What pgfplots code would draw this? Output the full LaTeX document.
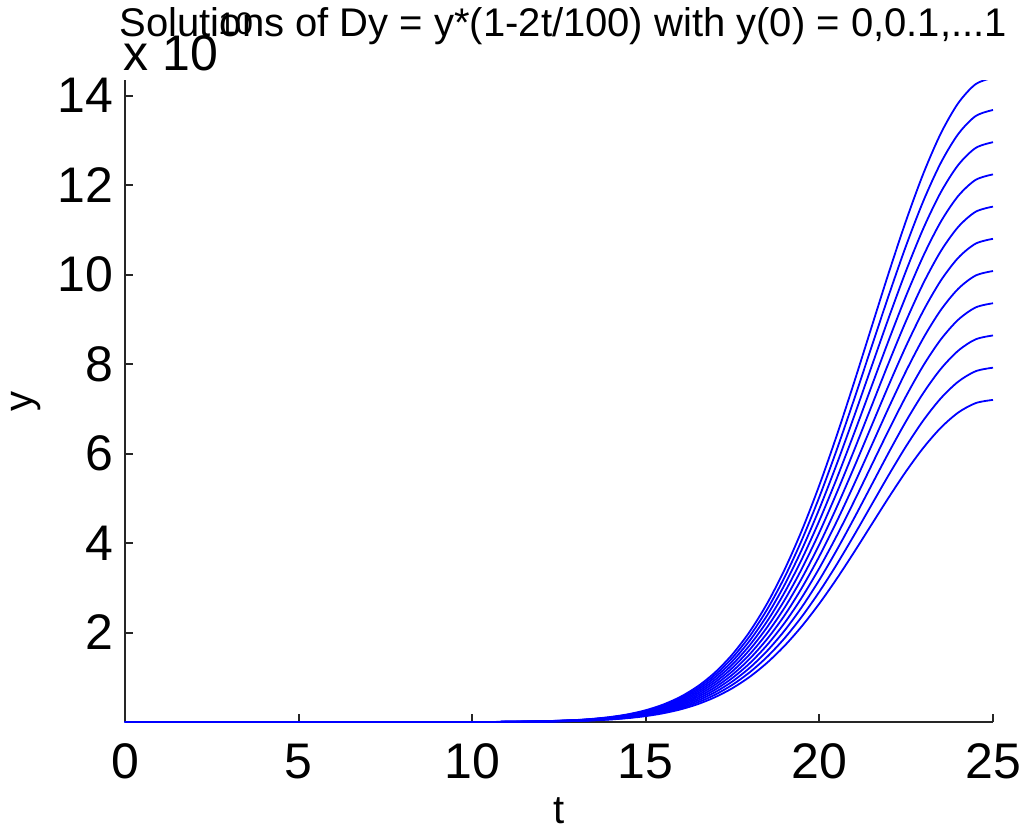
\documentclass[border=0pt]{standalone}
\usepackage{fontspec}
\setmainfont{Liberation Sans}
\usepackage{pgfplots}
\usepackage{pgfplotstable}
\pgfplotsset{compat=1.18}

% solution curves, values in units of 10^10
\pgfplotstableread{
t    c10   c11   c12   c13   c14   c15    c16    c17    c18    c19    c20
0    0     0     0     0     0     0      0      0      0      0      0
10   0.001 0.001 0.001 0.001 0.001 0.002  0.002  0.002  0.002  0.002  0.002
11   0.003 0.003 0.003 0.004 0.004 0.004  0.004  0.005  0.005  0.005  0.006
12   0.008 0.009 0.010 0.011 0.012 0.013  0.013  0.014  0.015  0.016  0.017
13   0.023 0.025 0.027 0.030 0.032 0.034  0.036  0.039  0.041  0.043  0.045
13.5 0.036 0.040 0.044 0.047 0.051 0.054  0.058  0.062  0.065  0.069  0.073
14   0.057 0.063 0.068 0.074 0.080 0.085  0.091  0.097  0.103  0.108  0.114
14.5 0.088 0.096 0.105 0.114 0.123 0.131  0.140  0.149  0.158  0.166  0.175
15   0.132 0.145 0.158 0.171 0.185 0.198  0.211  0.224  0.237  0.251  0.264
15.5 0.195 0.214 0.234 0.253 0.273 0.292  0.312  0.331  0.351  0.370  0.390
16   0.282 0.310 0.338 0.367 0.395 0.423  0.451  0.479  0.508  0.536  0.564
16.5 0.400 0.440 0.480 0.520 0.560 0.600  0.640  0.680  0.720  0.760  0.800
17   0.557 0.612 0.668 0.724 0.779 0.835  0.891  0.946  1.002  1.058  1.113
17.5 0.759 0.835 0.911 0.987 1.062 1.138  1.214  1.290  1.366  1.442  1.518
18   1.014 1.116 1.217 1.318 1.420 1.521  1.623  1.724  1.826  1.927  2.028
18.5 1.329 1.461 1.594 1.727 1.860 1.993  2.126  2.258  2.391  2.524  2.657
19   1.706 1.876 2.047 2.218 2.388 2.559  2.729  2.900  3.071  3.241  3.412
19.5 2.147 2.362 2.576 2.791 3.006 3.221  3.435  3.650  3.865  4.079  4.294
20   2.649 2.914 3.178 3.443 3.708 3.973  4.238  4.503  4.768  5.033  5.297
20.5 3.203 3.523 3.844 4.164 4.484 4.805  5.125  5.445  5.765  6.086  6.406
21   3.797 4.176 4.556 4.935 5.315 5.695  6.074  6.454  6.834  7.213  7.593
21.5 4.411 4.852 5.293 5.734 6.175 6.616  7.057  7.499  7.940  8.381  8.822
22   5.023 5.526 6.028 6.530 7.033 7.535  8.037  8.540  9.042  9.544  10.047
22.5 5.607 6.168 6.729 7.290 7.850 8.411  8.972  9.533  10.093 10.654 11.215
23   6.135 6.749 7.362 7.976 8.590 9.203  9.817  10.430 11.044 11.657 12.271
23.5 6.580 7.238 7.896 8.554 9.212 9.870  10.528 11.187 11.845 12.503 13.161
24   6.918 7.609 8.301 8.993 9.685 10.377 11.068 11.760 12.452 13.144 13.835
24.5 7.128 7.841 8.554 9.267 9.980 10.693 11.405 12.118 12.831 13.544 14.257
25   7.200 7.920 8.640 9.360 10.080 10.800 11.520 12.240 12.960 13.680 14.400
}\sols

\begin{document}
\begin{tikzpicture}
\begin{axis}[
    name=ax,
    scale only axis,
    width=217pt, height=160.5pt,
    xmin=0, xmax=25, ymin=0, ymax=14.35,
    axis lines*=left,
    axis line style={-, line width=0.5pt, draw=black!85},
    tick style={line width=0.5pt, draw=black!85},
    tick align=inside,
    major tick length=2pt,
    xtick={0,5,...,25},
    ytick={2,4,...,14},
    /pgf/number format/assume math mode=true,
    tick label style={font=\fontsize{12.5}{12.5}\selectfont, inner sep=0pt},
    xticklabel style={yshift=-5.2pt},
    yticklabel style={xshift=-2.8pt},
    every axis title shift=0pt,
    title={Solutions of Dy = y*(1-2t/100) with y(0) = 0,0.1,...1},
    title style={at={(axis description cs:0.505,1.0685)}, anchor=base,
                 font=\fontsize{10}{10}\selectfont, inner sep=0pt},
    xlabel={t},
    xlabel style={at={(axis description cs:0.5,-0.158)}, anchor=base,
                  font=\fontsize{10}{10}\selectfont, inner sep=0pt},
    ylabel={y},
    ylabel style={at={(axis description cs:-0.106,0.5)}, anchor=base,
                  font=\fontsize{10}{10}\selectfont, inner sep=0pt},
    clip=true,
]
\pgfplotsinvokeforeach{10,...,20}{
  \addplot[draw={rgb,255:red,0;green,0;blue,255}, line width=0.45pt,
           no marks, smooth, tension=0.5]
    table[x=t, y=c#1]{\sols};
}
\end{axis}
\node[anchor=base west, inner sep=0pt, font=\fontsize{12.5}{12.5}\selectfont]
  at ([xshift=-0.5pt, yshift=2.5pt]ax.north west)
  {x 10\raisebox{9pt}{\fontsize{7.8}{7.8}\selectfont 10}};
\pgfresetboundingbox
\path ([xshift=-31.25pt, yshift=-26.5pt]ax.south west) rectangle ++(256.75pt,207pt);
\end{tikzpicture}
\end{document}
